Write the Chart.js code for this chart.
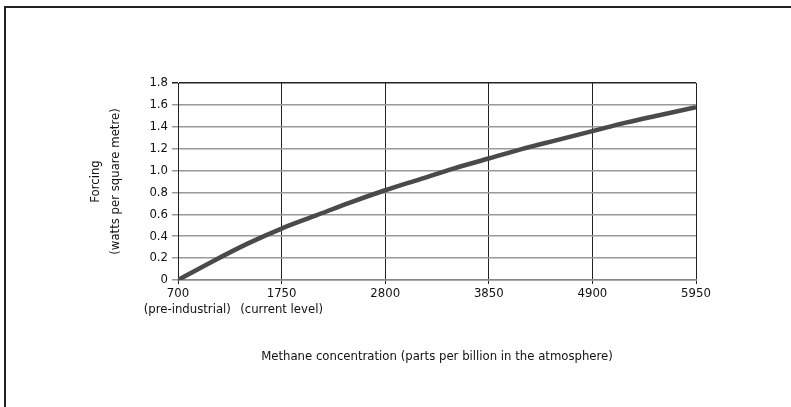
<!DOCTYPE html>
<html>
<head>
<meta charset="utf-8">
<script src="https://cdn.jsdelivr.net/npm/chart.js@4/dist/chart.umd.min.js"></script>
<style>
  html, body { margin: 0; padding: 0; background: #fff; }
  #wrap { position: relative; width: 791px; height: 407px; }
  #frame { position: absolute; left: 4px; top: 6px; right: 0; bottom: 0;
           border-top: 2px solid #222; border-left: 2px solid #222; pointer-events: none; }
</style>
</head>
<body>
<div id="wrap">
  <canvas id="myChart" width="791" height="407"></canvas>
  <div id="frame"></div>
</div>
<script>
// methane concentration (ppb) and radiative forcing (W/m2)
var concentration = [700, 1050, 1400, 1750, 2100, 2450, 2800, 3150, 3500, 3850, 4200, 4550, 4900, 5250, 5600, 5950];
var forcing = [0, 0.17, 0.33, 0.47, 0.59, 0.71, 0.82, 0.92, 1.02, 1.11, 1.20, 1.28, 1.36, 1.44, 1.51, 1.58];
var xTickNotes = { 700: "     (pre-industrial)", 1750: "(current level)" };

document.addEventListener("DOMContentLoaded", function() {
    var ctx = document.getElementById("myChart").getContext("2d");
    var font = "'Liberation Sans Narrow', 'DejaVu Sans Condensed', sans-serif";
    Chart.defaults.font.family = font;
    Chart.defaults.font.size = 13;
    Chart.defaults.color = "#111";

    var points = concentration.map(function(c, i) { return { x: c, y: forcing[i] }; });

    new Chart(ctx, {
        type: 'line',
        data: {
            datasets: [{
                data: points,
                borderColor: "#4a4a4a",
                borderWidth: 4.5,
                pointRadius: 0,
                cubicInterpolationMode: 'monotone',
                fill: false
            }]
        },
        options: {
            responsive: false,
            animation: false,
            layout: { padding: { left: 86, right: 95, top: 83, bottom: 43 } },
            plugins: { legend: { display: false }, tooltip: { enabled: false } },
            scales: {
                x: {
                    type: 'linear',
                    min: 700,
                    max: 5950,
                    afterBuildTicks: function(scale) {
                        scale.ticks = [700, 1750, 2800, 3850, 4900, 5950].map(function(v) { return { value: v }; });
                    },
                    afterFit: function(scale) { scale.height = 84; },
                    ticks: {
                        padding: 1,
                        maxRotation: 0,
                        autoSkip: false,
                        font: { lineHeight: 1.25 },
                        callback: function(v) {
                            return xTickNotes[v] ? [String(v), xTickNotes[v]] : String(v);
                        }
                    },
                    grid: { color: "#222", lineWidth: 1, tickLength: 4 },
                    border: { color: "#888", width: 1.5 },
                    title: {
                        display: true,
                        text: "Methane concentration (parts per billion in the atmosphere)",
                        padding: 0
                    }
                },
                y: {
                    min: 0,
                    max: 1.8,
                    afterFit: function(scale) { scale.width = 92; },
                    ticks: {
                        stepSize: 0.2,
                        padding: 4,
                        callback: function(v) { return v === 0 ? "0" : v.toFixed(1); }
                    },
                    grid: {
                        color: function(c) { return c.tick && c.tick.value === 1.8 ? "#222" : "#999"; },
                        lineWidth: 1.5,
                        tickLength: 6
                    },
                    border: { color: "#222", width: 1 },
                    title: {
                        display: true,
                        text: ["Forcing", "(watts per square metre)"],
                        padding: 0,
                        font: { lineHeight: 1.5 }
                    }
                }
            }
        }
    });
});
</script>
</body>
</html>
